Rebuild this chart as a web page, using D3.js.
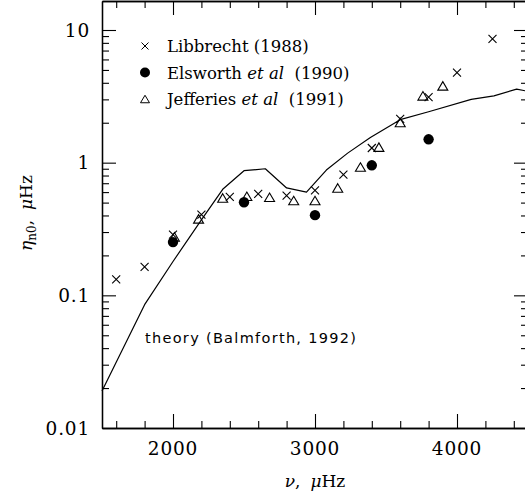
<!DOCTYPE html>
<html>
<head>
<meta charset="utf-8">
<script src="https://cdn.jsdelivr.net/npm/d3@7"></script>
<style>
  body { margin: 0; background: #fff; }
  svg { display: block; overflow: hidden; }
</style>
</head>
<body>
<div id="chart"></div>
<script>
// Libbrecht (1988) -- crosses
const libbrechtFreq = [1600, 1800, 2000, 2200, 2400, 2600, 2800, 3000, 3200, 3400, 3600, 3800, 4000, 4250];
const libbrechtWidth = [0.132, 0.164, 0.287, 0.406, 0.552, 0.582, 0.565, 0.619, 0.812, 1.29, 2.14, 3.12, 4.77, 8.56];

// Elsworth et al (1990) -- filled circles
const elsworthFreq = [2000, 2500, 3000, 3400, 3800];
const elsworthWidth = [0.252, 0.503, 0.402, 0.955, 1.5];

// Jefferies et al (1991) -- open triangles
const jefferiesFreq = [2010, 2180, 2350, 2520, 2680, 2850, 3000, 3160, 3320, 3450, 3600, 3760, 3900];
const jefferiesWidth = [0.276, 0.377, 0.542, 0.558, 0.548, 0.518, 0.518, 0.645, 0.928, 1.31, 2.01, 3.19, 3.79];

// theory (Balmforth, 1992)
const theoryFreq = [1500, 1800, 2000, 2200, 2350, 2500, 2650, 2800, 2940, 3080, 3230, 3390, 3600, 3800, 4100, 4260, 4420, 4500];
const theoryWidth = [0.019, 0.085, 0.18, 0.37, 0.63, 0.87, 0.9, 0.645, 0.6, 0.88, 1.18, 1.55, 2.11, 2.42, 3.0, 3.19, 3.58, 3.45];

const xMajor = [2000, 3000, 4000];
const xMinor = d3.range(1600, 4500, 200).filter((v) => v % 1000 !== 0);
const yMajor = [0.01, 0.1, 1, 10];
const yMajorLabels = ["0.01", "0.1", "1", "10"];
const yMinor = [0.01, 0.1, 1].flatMap((d) => d3.range(2, 10).map((k) => +(d * k).toPrecision(3)));

const legendItems = [
  { key: "cross", parts: [["Libbrecht (1988)", false]] },
  { key: "dot", parts: [["Elsworth ", false], ["et al", true], ["  (1990)", false]] },
  { key: "tri", parts: [["Jefferies ", false], ["et al", true], ["  (1991)", false]] },
];

const width = 525;
const height = 494;
const margin = { top: 1, right: -3, bottom: 66, left: 102 };
const majorLen = 14;
const minorLen = 7;
const serif = "'DejaVu Serif', serif";

const x = d3.scaleLinear([1500, 4500], [margin.left, width - margin.right]);
const yBottom = height - margin.bottom;
const decade = (yBottom - 30) / 3; // 0.01 -> 10 spans three decades
const yTop = Math.pow(10, 1 + (30 - margin.top) / decade);
const y = d3.scaleLog([0.01, yTop], [yBottom, margin.top]);

const svg = d3
  .select("#chart")
  .append("svg")
  .attr("width", width)
  .attr("height", height);

// frame + inward ticks on all four sides
const axes = svg.append("g").attr("stroke", "#000").attr("fill", "none");

function ticks(g, axis, values, len) {
  g.call(axis.tickValues(values).tickSize(-len).tickSizeOuter(0).tickFormat(""));
  g.selectAll("line").attr("stroke", "#000").attr("stroke-width", 1.1);
  g.select(".domain").attr("stroke", "#000").attr("stroke-width", 1.3);
}

axes.append("g").attr("transform", `translate(0,${yBottom})`).call(ticks, d3.axisBottom(x), xMajor, majorLen);
axes.append("g").attr("transform", `translate(0,${yBottom})`).call(ticks, d3.axisBottom(x), xMinor, minorLen);
axes.append("g").attr("transform", `translate(0,${margin.top})`).call(ticks, d3.axisTop(x), xMajor, majorLen);
axes.append("g").attr("transform", `translate(0,${margin.top})`).call(ticks, d3.axisTop(x), xMinor, minorLen);
axes.append("g").attr("transform", `translate(${margin.left},0)`).call(ticks, d3.axisLeft(y), yMajor, majorLen);
axes.append("g").attr("transform", `translate(${margin.left},0)`).call(ticks, d3.axisLeft(y), yMinor, minorLen);
axes.append("g").attr("transform", `translate(${width - margin.right},0)`).call(ticks, d3.axisRight(y), yMajor, majorLen);
axes.append("g").attr("transform", `translate(${width - margin.right},0)`).call(ticks, d3.axisRight(y), yMinor, minorLen);

// tick labels
svg
  .append("g")
  .attr("font-family", serif)
  .attr("font-size", 18.5)
  .attr("letter-spacing", 0.8)
  .attr("text-anchor", "middle")
  .selectAll("text")
  .data(xMajor)
  .join("text")
  .attr("x", (d) => x(d))
  .attr("y", yBottom + 27)
  .text((d) => d);

svg
  .append("g")
  .attr("font-family", serif)
  .attr("font-size", 18.5)
  .attr("letter-spacing", 0.8)
  .attr("text-anchor", "end")
  .selectAll("text")
  .data(yMajor)
  .join("text")
  .attr("x", margin.left - 12)
  .attr("y", (d) => y(d) + 6.5)
  .text((d, i) => yMajorLabels[i]);

// axis titles
const xt = svg
  .append("text")
  .attr("font-family", serif)
  .attr("font-size", 17)
  .attr("text-anchor", "middle")
  .attr("x", x(3000))
  .attr("y", 487);
xt.append("tspan").attr("font-style", "italic").text("ν");
xt.append("tspan").text(",");
xt.append("tspan").attr("dx", 10).attr("font-style", "italic").text("μ");
xt.append("tspan").text("Hz");

const yt = svg
  .append("text")
  .attr("font-family", serif)
  .attr("font-size", 17)
  .attr("text-anchor", "middle")
  .attr("transform", "translate(32,213) rotate(-90)");
yt.append("tspan").attr("font-style", "italic").text("η");
yt.append("tspan").attr("font-size", 12).attr("dy", 4).text("n0");
yt.append("tspan").attr("dy", -4).text(",");
yt.append("tspan").attr("dx", 10).attr("font-style", "italic").text("μ");
yt.append("tspan").text("Hz");

// theory curve
const line = d3
  .line()
  .x((d) => x(d[0]))
  .y((d) => y(d[1]));

svg
  .append("path")
  .datum(d3.zip(theoryFreq, theoryWidth))
  .attr("fill", "none")
  .attr("stroke", "#000")
  .attr("stroke-width", 1.2)
  .attr("stroke-linejoin", "round")
  .attr("d", line);

svg
  .append("text")
  .attr("font-family", "'DejaVu Sans', sans-serif")
  .attr("font-size", 14.5)
  .attr("letter-spacing", 1.3)
  .attr("x", 145)
  .attr("y", 343)
  .text("theory (Balmforth, 1992)");

// markers
const crossPath = (s) => `M${-s},${-s}L${s},${s}M${-s},${s}L${s},${-s}`;
const triPath = (w, h) => `M0,${-h / 2}L${w / 2},${h / 2}L${-w / 2},${h / 2}Z`;

svg
  .append("g")
  .selectAll("path")
  .data(d3.zip(libbrechtFreq, libbrechtWidth))
  .join("path")
  .attr("transform", (d) => `translate(${x(d[0])},${y(d[1])})`)
  .attr("d", crossPath(4))
  .attr("stroke", "#000")
  .attr("stroke-width", 1.1);

svg
  .append("g")
  .selectAll("circle")
  .data(d3.zip(elsworthFreq, elsworthWidth))
  .join("circle")
  .attr("cx", (d) => x(d[0]))
  .attr("cy", (d) => y(d[1]))
  .attr("r", 5.2)
  .attr("fill", "#000");

svg
  .append("g")
  .selectAll("path")
  .data(d3.zip(jefferiesFreq, jefferiesWidth))
  .join("path")
  .attr("transform", (d) => `translate(${x(d[0])},${y(d[1])})`)
  .attr("d", triPath(10, 8.5))
  .attr("fill", "none")
  .attr("stroke", "#000")
  .attr("stroke-width", 1.1);

// legend
const legend = svg
  .append("g")
  .attr("font-family", serif)
  .attr("font-size", 16.5)
  .selectAll("g")
  .data(legendItems)
  .join("g")
  .attr("transform", (d, i) => `translate(145,${46 + i * 26.5})`);

legend.each(function (d) {
  const g = d3.select(this);
  if (d.key === "cross") g.append("path").attr("d", crossPath(3.5)).attr("stroke", "#000").attr("stroke-width", 1);
  if (d.key === "dot") g.append("circle").attr("r", 5).attr("fill", "#000");
  if (d.key === "tri") g.append("path").attr("d", triPath(9, 7.5)).attr("fill", "none").attr("stroke", "#000").attr("stroke-width", 1);
  const t = g.append("text").attr("x", 22).attr("y", 6).attr("xml:space", "preserve");
  d.parts.forEach(([s, it]) => t.append("tspan").attr("font-style", it ? "italic" : "normal").text(s));
});
</script>
</body>
</html>
